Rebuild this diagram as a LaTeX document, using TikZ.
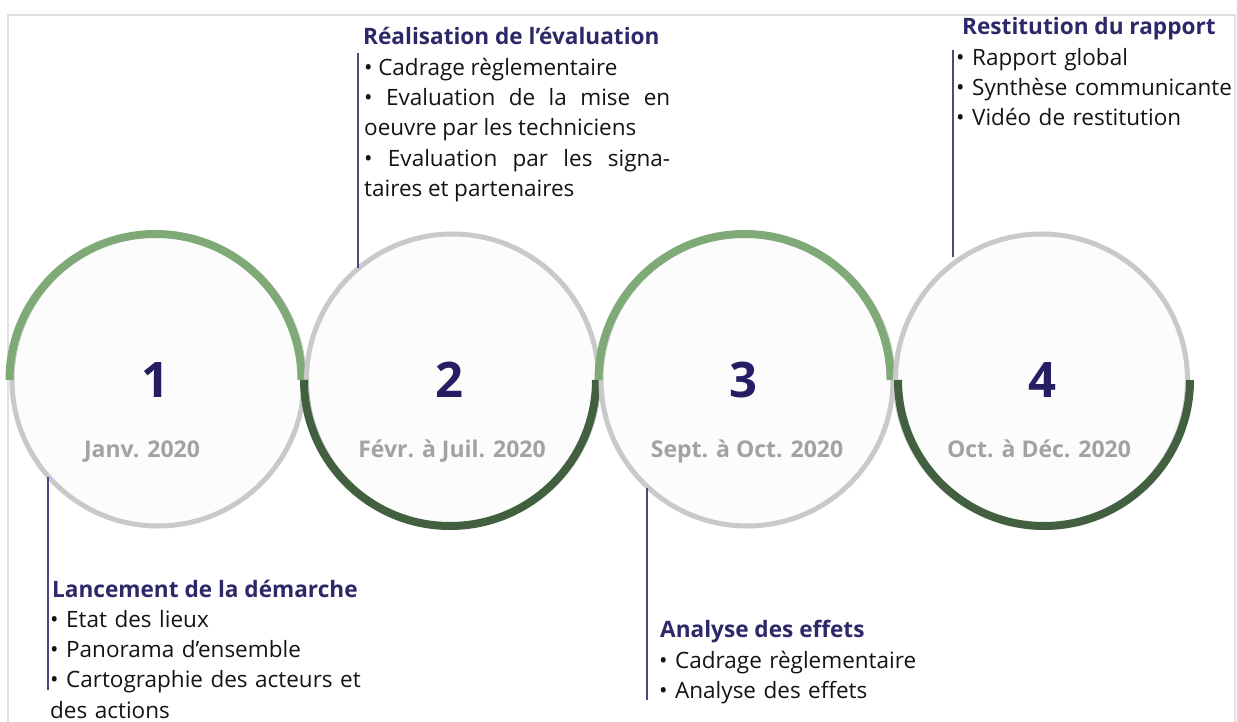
\documentclass[tikz,border=0pt]{standalone}
\usepackage{fontspec}
\setmainfont{Open Sans}
\definecolor{lightg}{HTML}{7FAA78}
\definecolor{darkg}{HTML}{425F40}
\definecolor{ringgray}{HTML}{C9C9C9}
\definecolor{cfill}{HTML}{FCFCFC}
\definecolor{navy}{HTML}{261E63}
\definecolor{headnavy}{HTML}{2D2868}
\definecolor{dategray}{HTML}{A2A2A2}
\definecolor{linenavy}{HTML}{4D4880}
\definecolor{bordergray}{HTML}{E0E0E0}
\definecolor{bodyblack}{HTML}{141414}
\tikzset{
  stage/.style={circle, draw=ringgray, line width=5pt, fill=cfill, minimum size=292pt, inner sep=0pt},
  toparc/.style={draw=lightg, line width=8pt},
  botarc/.style={draw=darkg, line width=8pt},
  digit/.style={font=\bfseries\fontsize{49}{49}\selectfont, text=navy, anchor=base, inner sep=0pt},
  datelbl/.style={font=\bfseries\fontsize{23}{24}\selectfont, text=dategray, anchor=base, inner sep=0pt},
  heading/.style={font=\bfseries\fontsize{22.6}{28}\selectfont, text=headnavy, anchor=base west, inner sep=0pt},
  body/.style={font=\fontsize{22.5}{30.3}\selectfont, text=bodyblack, anchor=north west, inner sep=0pt, align=left},
  leader/.style={draw=linenavy, line width=2pt}
}
\begin{document}
\begin{tikzpicture}[x=1pt,y=1pt]
\useasboundingbox (0,0) rectangle (1237,-722);
\fill[white] (0,0) rectangle (1237,-722);
\draw[bordergray, line width=2.5pt] (8,-722) -- (8,-15) -- (1235,-15) -- (1235,-722);

% circles
\node[stage] (c1) at (158,-380) {};
\draw[toparc] (c1.west) arc[start angle=180, end angle=0, radius=146];
\node[stage] (c2) at (452.5,-380) {};
\draw[botarc] (c2.west) arc[start angle=180, end angle=360, radius=146];
\node[stage] (c3) at (747,-380) {};
\draw[toparc] (c3.west) arc[start angle=180, end angle=0, radius=146];
\node[stage] (c4) at (1041.5,-380) {};
\draw[botarc] (c4.east) arc[start angle=0, end angle=-180, radius=146];

% digits and dates
\node[digit] (d1) at (155,-397) {1};
\node[digit] (d2) at (449,-397) {2};
\node[digit] (d3) at (743,-397) {3};
\node[digit] (d4) at (1042,-397) {4};
\node[datelbl] (t1) at (142,-457) {Janv. 2020};
\node[datelbl] (t2) at (452,-457) {Févr. à Juil. 2020};
\node[datelbl] (t3) at (747,-457) {Sept. à Oct. 2020};
\node[datelbl] (t4) at (1039,-457) {Oct. à Déc. 2020};

% leaders
\coordinate (l1a) at (48,-477); \coordinate (l1b) at (48,-690);
\coordinate (l2a) at (358,-53); \coordinate (l2b) at (358,-268);
\coordinate (l3a) at (647,-488); \coordinate (l3b) at (647,-700);
\coordinate (l4a) at (953,-50); \coordinate (l4b) at (953,-257);
\draw[leader] (l1a) -- (l1b);
\draw[leader] (l2a) -- (l2b);
\draw[leader] (l3a) -- (l3b);
\draw[leader] (l4a) -- (l4b);

% block 1
\node[heading] (h1) at (52,-597) {Lancement de la démarche};
\node[body, text width=340pt] (b1) at (50,-605.8) {\strut• Etat des lieux\newline
• Panorama d’ensemble\newline
• Cartographie des acteurs et\newline
des actions};

% block 2
\node[heading] (h2) at (363,-45) {Réalisation de l’évaluation};
\node[body, text width=306pt, align=justify] (b2) at (364,-53.8) {\hyphenpenalty=10000\tolerance=10000\spaceskip=.25em plus 2em minus .05em
\strut• Cadrage règlementaire\newline
• Evaluation de la mise en\linebreak
oeuvre par les techniciens\newline
• Evaluation par les signa-\linebreak
taires et partenaires};

% block 3
\node[heading] (h3) at (660,-637) {Analyse des effets};
\node[body, text width=300pt] (b3) at (659,-646.8) {\strut• Cadrage règlementaire\newline
• Analyse des effets};

% block 4
\node[heading] (h4) at (962,-35) {Restitution du rapport};
\node[body, text width=300pt] (b4) at (956,-43.8) {\strut• Rapport global\newline
• Synthèse communicante\newline
• Vidéo de restitution};
\end{tikzpicture}
\end{document}
